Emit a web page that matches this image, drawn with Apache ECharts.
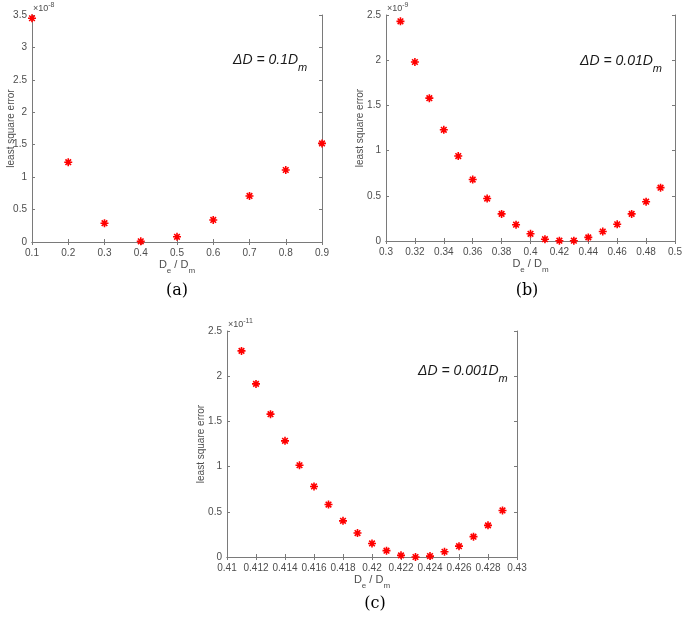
<!DOCTYPE html>
<html>
<head>
<meta charset="utf-8">
<script src="https://cdn.jsdelivr.net/npm/echarts@6/dist/echarts.min.js"></script>
<style>html,body{margin:0;padding:0;background:#fff}#c{width:685px;height:617px}</style>
</head>
<body>
<div id="c"></div>
<script>
// Panel (a): ΔD = 0.1 Dm, y in units of 1e-8
var xA = [0.1, 0.2, 0.3, 0.4, 0.5, 0.6, 0.7, 0.8, 0.9];
var yA = [3.45, 1.23, 0.29, 0.01, 0.08, 0.34, 0.71, 1.11, 1.52];
// Panel (b): ΔD = 0.01 Dm, y in units of 1e-9
var xB = [0.31, 0.32, 0.33, 0.34, 0.35, 0.36, 0.37, 0.38, 0.39, 0.40, 0.41, 0.42, 0.43, 0.44, 0.45, 0.46, 0.47, 0.48, 0.49];
var yB = [2.43, 1.98, 1.58, 1.23, 0.94, 0.68, 0.47, 0.30, 0.18, 0.08, 0.02, 0.003, 0.003, 0.04, 0.105, 0.185, 0.30, 0.435, 0.59];
// Panel (c): ΔD = 0.001 Dm, y in units of 1e-11
var xC = [0.411, 0.412, 0.413, 0.414, 0.415, 0.416, 0.417, 0.418, 0.419, 0.420, 0.421, 0.422, 0.423, 0.424, 0.425, 0.426, 0.427, 0.428, 0.429];
var yC = [2.28, 1.915, 1.58, 1.285, 1.015, 0.78, 0.58, 0.40, 0.265, 0.15, 0.07, 0.018, 0.0, 0.01, 0.058, 0.12, 0.225, 0.35, 0.515];

var exponents = ['-8', '-9', '-11'];
var annotations = ['0.1', '0.01', '0.001'];
var captions = ['(a)', '(b)', '(c)'];

var AX = '#7a7a7a', LBL = '#4d4d4d', FONT = 'Liberation Sans, Arial, sans-serif';
var star = 'path://M0,-10L0,10M-10,0L10,0M-7,-7L7,7M-7,7L7,-7';

var grids = [
  {left: 32, top: 15, width: 290, height: 227},
  {left: 386, top: 15, width: 289, height: 226},
  {left: 227, top: 331, width: 290, height: 226}
];
var yNameGaps = [16, 21, 21];
var xr = [[0.1, 0.9, 0.1], [0.3, 0.5, 0.02], [0.41, 0.43, 0.002]];
var yr = [[0, 3.5, 0.5], [0, 2.5, 0.5], [0, 2.5, 0.5]];
var data = [[xA, yA], [xB, yB], [xC, yC]];

function lbl(v){ return String(+v.toFixed(4)); }

var xAxis = [], yAxis = [], series = [], graphic = [];
grids.forEach(function(g, i){
  xAxis.push({
    gridIndex: i, type: 'value', min: xr[i][0], max: xr[i][1], interval: xr[i][2],
    axisLine: {lineStyle: {color: AX, width: 1}},
    axisTick: {inside: true, length: 3, lineStyle: {color: AX}},
    axisLabel: {color: LBL, fontSize: 10, fontFamily: FONT, margin: 6, formatter: lbl},
    splitLine: {show: false},
    name: '{t|D}{s|e}{t| / D}{s|m}', nameLocation: 'middle', nameGap: 17, nameMoveOverlap: false,
    nameTextStyle: {rich: {
      t: {fontSize: 11, color: LBL, fontFamily: FONT, verticalAlign: 'top'},
      s: {fontSize: 8, color: LBL, fontFamily: FONT, verticalAlign: 'top', padding: [8, 0, 0, 0]}
    }}
  });
  xAxis.push({
    gridIndex: i, type: 'value', position: 'top', min: xr[i][0], max: xr[i][1], interval: xr[i][2],
    axisLine: {lineStyle: {color: AX, width: 1}},
    axisTick: {show: true, inside: true, length: 3, lineStyle: {color: AX}},
    axisLabel: {show: false}, splitLine: {show: false}
  });
  yAxis.push({
    gridIndex: i, type: 'value', min: yr[i][0], max: yr[i][1], interval: yr[i][2],
    axisLine: {show: true, lineStyle: {color: AX, width: 1}},
    axisTick: {show: true, inside: true, length: 3, lineStyle: {color: AX}},
    axisLabel: {color: LBL, fontSize: 10, fontFamily: FONT, margin: 5, formatter: lbl},
    splitLine: {show: false},
    name: 'least square error', nameLocation: 'middle', nameGap: yNameGaps[i], nameMoveOverlap: false,
    nameTextStyle: {color: LBL, fontSize: 10, fontFamily: FONT}
  });
  yAxis.push({
    gridIndex: i, type: 'value', position: 'right', min: yr[i][0], max: yr[i][1], interval: yr[i][2],
    axisLine: {show: true, lineStyle: {color: AX, width: 1}},
    axisTick: {show: true, inside: true, length: 3, lineStyle: {color: AX}},
    axisLabel: {show: false}, splitLine: {show: false}
  });
  var pts = data[i][0].map(function(x, k){ return [x, data[i][1][k]]; });
  series.push({
    type: 'scatter', xAxisIndex: 2 * i, yAxisIndex: 2 * i, data: pts,
    symbol: star, symbolSize: 8, clip: false,
    itemStyle: {color: 'rgba(255,0,0,0)', borderColor: '#ff0000', borderWidth: 1.6, opacity: 1},
    emphasis: {disabled: true}
  });
  // exponent label
  graphic.push({
    type: 'text', left: g.left + 1, top: g.top - 13,
    style: {text: '{a|×10}{b|' + exponents[i] + '}', rich: {
      a: {fontSize: 9, fill: LBL, fontFamily: FONT, verticalAlign: 'bottom'},
      b: {fontSize: 7, fill: LBL, fontFamily: FONT, verticalAlign: 'bottom', padding: [0, 0, 4, 0]}
    }}
  });
});

// annotations
var annPos = [[233, 53], [580, 54], [418, 364]];
annPos.forEach(function(p, i){
  graphic.push({
    type: 'text', left: p[0], top: p[1],
    style: {text: '{a|ΔD = ' + annotations[i] + 'D}{s|m}', rich: {
      a: {fontSize: 14, fontStyle: 'italic', fill: '#1a1a1a', fontFamily: FONT, verticalAlign: 'top'},
      s: {fontSize: 11, fontStyle: 'italic', fill: '#1a1a1a', fontFamily: FONT, verticalAlign: 'top', padding: [9, 0, 0, 0]}
    }}
  });
});
// captions
var capPos = [[177, 291], [527, 291], [375, 604]];
capPos.forEach(function(p, i){
  graphic.push({
    type: 'text', x: p[0], y: p[1],
    style: {text: captions[i], fontSize: 16, fill: '#000', fontFamily: 'DejaVu Serif, Liberation Serif, serif',
      textAlign: 'center', textVerticalAlign: 'middle'}
  });
});

var chart = echarts.init(document.getElementById('c'), null, {renderer: 'canvas'});
chart.setOption({
  animation: false,
  grid: grids.map(function(g){ return Object.assign({containLabel: false}, g); }),
  xAxis: xAxis, yAxis: yAxis, series: series, graphic: graphic
});
</script>
</body>
</html>
